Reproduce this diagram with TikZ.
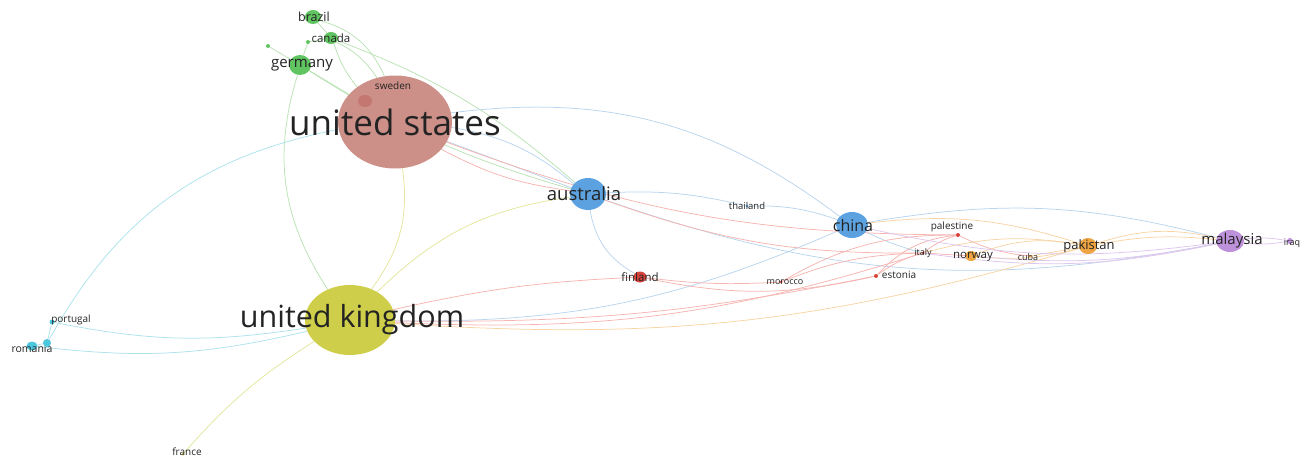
\documentclass[tikz,border=0pt]{standalone}
\usepackage{fontspec}
\setmainfont{Open Sans}
\usetikzlibrary{shapes.geometric, backgrounds}

\definecolor{labgray}{RGB}{35,35,35}
\definecolor{usred}{RGB}{204,144,136}
\definecolor{swred}{RGB}{196,118,112}
\definecolor{ukyel}{RGB}{206,206,74}
\definecolor{aublue}{RGB}{92,162,224}
\definecolor{degreen}{RGB}{96,196,96}
\definecolor{fired}{RGB}{214,66,60}
\definecolor{pkorange}{RGB}{238,164,66}
\definecolor{mypurple}{RGB}{190,146,218}
\definecolor{rocyan}{RGB}{76,200,222}
\definecolor{egreen}{RGB}{186,226,180}
\definecolor{eblue}{RGB}{184,212,238}
\definecolor{ered}{RGB}{246,180,176}
\definecolor{eorange}{RGB}{248,212,164}
\definecolor{epurple}{RGB}{222,198,236}
\definecolor{ecyan}{RGB}{172,226,236}
\definecolor{eyellow}{RGB}{228,230,156}

\tikzset{
	cnode/.style={ellipse, inner sep=0pt, fill=#1},
	lab/.style={font=\fontsize{#1}{#1}\selectfont, text=labgray, inner sep=0pt},
	link/.style={draw=#1, line width=0.75pt}
}

\begin{document}
\begin{tikzpicture}[x=1pt, y=1pt]
	\path[use as bounding box] (0,0) rectangle (1306,-458);
	% big hubs
	\node[cnode=usred, minimum width=114pt, minimum height=93pt] (us) at (395,-122) [label={[lab=35]center:united states}] {};
	\node[cnode=ukyel, minimum width=90pt, minimum height=70pt] (uk) at (350,-320) [label={[lab=30.5,xshift=2pt]center:united kingdom}] {};
	\node[cnode=aublue, minimum width=36pt, minimum height=32pt] (au) at (588,-194) [label={[lab=18.5,xshift=-4pt]center:australia}] {};
	\node[cnode=aublue, minimum width=32pt, minimum height=26pt] (china) at (852,-225) [label={[lab=16,xshift=1pt]center:china}] {};
	\node[cnode=mypurple, minimum width=28pt, minimum height=22pt] (my) at (1230,-241) [label={[lab=15,xshift=2pt]center:malaysia}] {};
	\node[cnode=pkorange, minimum width=18pt, minimum height=16pt] (pk) at (1088,-246) [label={[lab=13,xshift=1pt]center:pakistan}] {};
	% green group
	\node[cnode=degreen, minimum width=22pt, minimum height=20pt] (de) at (300,-65) [label={[lab=15,xshift=2pt]center:germany}] {};
	\node[cnode=degreen, minimum width=16pt, minimum height=14pt] (br) at (313,-17) [label={[lab=12.5,xshift=1pt]center:brazil}] {};
	\node[cnode=degreen, minimum width=14pt, minimum height=12pt] (ca) at (331,-38) [label={[lab=11.5]center:canada}] {};
	\node[cnode=degreen, minimum size=4pt] (g1) at (268,-46) {};
	\node[cnode=degreen, minimum size=4pt] (g2) at (308,-42) {};
	\node[cnode=swred, minimum width=14pt, minimum height=12pt] (se) at (365,-101) [label={[lab=10,xshift=28pt,yshift=15pt]center:sweden}] {};
	% small ones on the right
	\node[cnode=aublue, minimum size=3pt] (th) at (747,-206) [label={[lab=9.5]center:thailand}] {};
	\node[cnode=fired, minimum size=4pt] (ps) at (958,-235) [label={[lab=10,xshift=-6pt,yshift=8pt]center:palestine}] {};
	\node[cnode=fired, minimum size=3pt] (it) at (923,-253) [label={[lab=9]center:italy}] {};
	\node[cnode=pkorange, minimum width=12pt, minimum height=10pt] (no) at (971,-256) [label={[lab=11.5,xshift=2pt,yshift=-1pt]center:norway}] {};
	\node[cnode=pkorange, minimum size=3pt] (cu) at (1030,-256) [label={[lab=9,xshift=-2pt,yshift=-1pt]center:cuba}] {};
	\node[cnode=mypurple, minimum size=6pt] (iq) at (1290,-241) [label={[lab=9,xshift=2pt,yshift=-2pt]center:iraq}] {};
	\node[cnode=fired, minimum size=4pt] (ee) at (876,-276) [label={[lab=10,xshift=23pt,yshift=1pt]center:estonia}] {};
	\node[cnode=fired, minimum size=3pt] (ma) at (781,-282) [label={[lab=9,xshift=4pt]center:morocco}] {};
	\node[cnode=fired, minimum width=13pt, minimum height=11pt] (fi) at (640,-277) [label={[lab=11.5]center:finland}] {};
	% cyan and france
	\node[cnode=rocyan, minimum size=5pt] (pt) at (52,-322) [label={[lab=10,xshift=19pt,yshift=2pt]center:portugal}] {};
	\node[cnode=rocyan, minimum width=11pt, minimum height=9pt] (ro) at (32,-346) [label={[lab=10.5,yshift=-3pt]center:romania}] {};
	\node[cnode=rocyan, minimum size=8pt] (ro2) at (47,-343) {};
	\node[cnode=ukyel, minimum size=3pt] (fr) at (183,-454) [label={[lab=10,xshift=4pt,yshift=2pt]center:france}] {};

	\begin{pgfonlayer}{background}
	% green links
	\foreach \a/\b/\bb in {de/uk/-25, de/us/0, ca/us/-10, br/us/25, ca/au/10, de/au/-8, br/ca/0, g1/de/0, g2/de/0, g2/ca/0, ca/us/15}
		\draw[link=egreen] (\a) to[bend left=\bb] (\b);
	% blue links
	\foreach \a/\b/\bb in {us/china/22, us/au/0, us/au/15, au/th/8, th/china/10, au/fi/-25, au/my/-15, china/my/12, china/uk/12, china/it/-5}
		\draw[link=eblue] (\a) to[bend left=\bb] (\b);
	% red links
	\foreach \a/\b/\bb in {us/ps/-10, us/au/-10, au/it/-10, uk/fi/5, uk/it/-10, uk/ee/-6, fi/ee/-12, fi/ma/-5, ma/it/10, ma/ps/15, ee/it/10, ee/ps/20, ps/it/-10, it/no/0, ps/cu/-10}
		\draw[link=ered] (\a) to[bend left=\bb] (\b);
	% orange links
	\foreach \a/\b/\bb in {no/pk/-10, no/pk/15, it/pk/12, cu/pk/0, pk/my/15, pk/my/8, uk/pk/-10, china/pk/12}
		\draw[link=eorange] (\a) to[bend left=\bb] (\b);
	% purple links
	\foreach \a/\b/\bb in {my/iq/8, my/iq/-8, my/it/10, china/my/-10, no/my/-8}
		\draw[link=epurple] (\a) to[bend left=\bb] (\b);
	% cyan links
	\foreach \a/\b/\bb in {ro2/us/25, pt/uk/-10, ro/uk/-10, ro2/pt/0, ro/ro2/0}
		\draw[link=ecyan] (\a) to[bend left=\bb] (\b);
	% yellow links
	\foreach \a/\b/\bb in {uk/fr/-8, us/uk/22, uk/au/18}
		\draw[link=eyellow] (\a) to[bend left=\bb] (\b);
	\end{pgfonlayer}
\end{tikzpicture}
\end{document}
